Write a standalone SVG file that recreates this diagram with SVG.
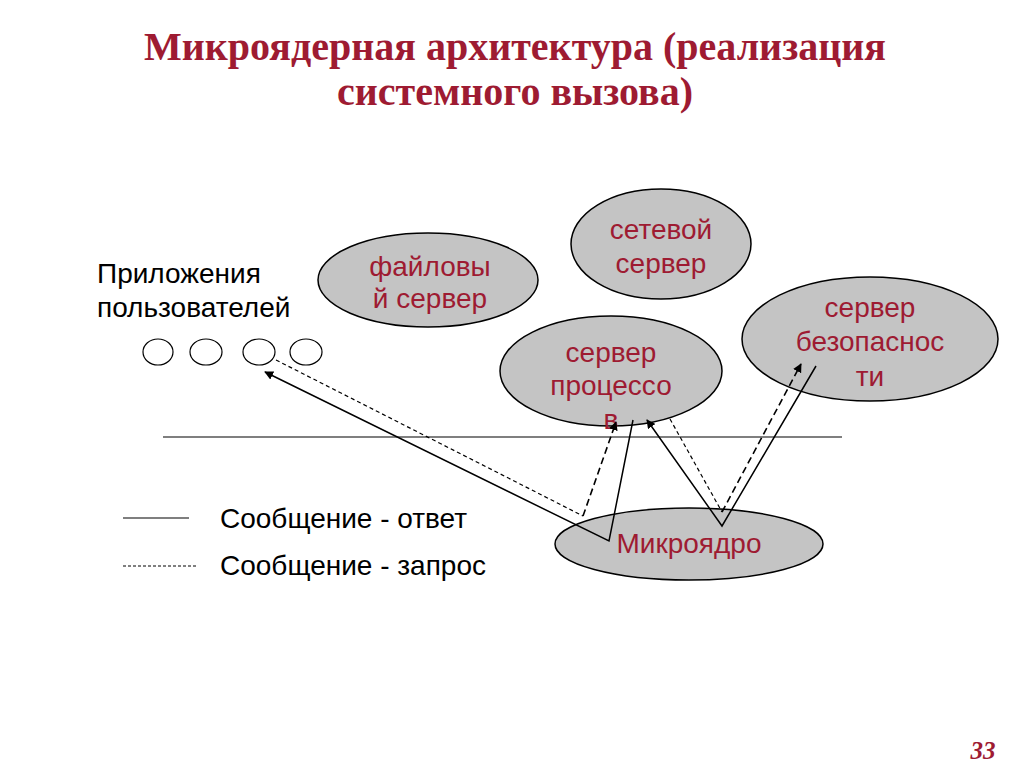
<svg xmlns="http://www.w3.org/2000/svg" width="1024" height="767" viewBox="0 0 1024 767">
<defs>
<style>
.title{font-family:"Liberation Serif",serif;font-weight:bold;font-size:40px;fill:#9E1B32;text-anchor:middle}
.nt{font-family:"Liberation Sans",Arial,sans-serif;font-size:28px;fill:#9E1B32;text-anchor:middle}
.bt{font-family:"Liberation Sans",Arial,sans-serif;font-size:28px;fill:#000}
.node{fill:#C4C4C4;stroke:#000;stroke-width:1.5}
.app{fill:#fff;stroke:#000;stroke-width:1.2}
.solid{fill:none;stroke:#000;stroke-width:1.5}
.dash1{fill:none;stroke:#000;stroke-width:1.2;stroke-dasharray:4 3}
.dash2{fill:none;stroke:#000;stroke-width:1.6;stroke-dasharray:7 4}
</style>
<marker id="ah" viewBox="0 0 10 10" refX="9" refY="5" markerWidth="9" markerHeight="9" markerUnits="userSpaceOnUse" orient="auto">
<path d="M0,0 L10,5 L0,10 z" fill="#000"/>
</marker>
</defs>
<rect width="1024" height="767" fill="#fff"/>
<text class="title" x="515" y="60">Микроядерная архитектура (реализация</text>
<text class="title" x="515" y="105">системного вызова)</text>

<g id="file-server"><ellipse class="node" cx="428" cy="280" rx="110" ry="47"/>
<text class="nt" x="430" y="276">файловы</text><text class="nt" x="430" y="308">й сервер</text></g>
<g id="net-server"><ellipse class="node" cx="661" cy="244" rx="90" ry="55"/>
<text class="nt" x="661" y="239">сетевой</text><text class="nt" x="661" y="273">сервер</text></g>
<g id="proc-server"><ellipse class="node" cx="611" cy="371" rx="111" ry="55"/>
<text class="nt" x="611" y="362">сервер</text><text class="nt" x="611" y="395">процессо</text><text class="nt" x="611" y="429">в</text></g>
<g id="sec-server"><ellipse class="node" cx="870" cy="339" rx="128" ry="62"/>
<text class="nt" x="870" y="317">сервер</text><text class="nt" x="870" y="351">безопаснос</text><text class="nt" x="870" y="386">ти</text></g>
<g id="microkernel"><ellipse class="node" cx="689" cy="544" rx="134" ry="36"/>
<text class="nt" x="689" y="553">Микроядро</text></g>

<g id="apps">
<text class="bt" x="97" y="283">Приложения</text>
<text class="bt" x="97" y="317">пользователей</text>
<ellipse class="app" cx="158" cy="352" rx="15" ry="13"/>
<ellipse class="app" cx="206" cy="352" rx="16" ry="13"/>
<ellipse class="app" cx="259" cy="352" rx="16" ry="13"/>
<ellipse class="app" cx="306" cy="352" rx="16" ry="13"/>
</g>

<line x1="163" y1="437" x2="842" y2="437" stroke="#000" stroke-width="1.2"/>

<g id="connectors">
<polyline class="solid" points="633,420 609,541 265,372" marker-end="url(#ah)"/>
<polyline class="dash1" points="276,360 583,516"/>
<polyline class="dash2" points="583,516 616,422" marker-end="url(#ah)"/>
<polyline class="dash1" points="670,419 722,512"/>
<polyline class="dash2" points="722,512 801,364" marker-end="url(#ah)"/>
<polyline class="solid" points="816,366 722,526 647,420" marker-end="url(#ah)"/>
</g>

<g id="legend">
<line x1="123" y1="518" x2="189" y2="518" stroke="#000" stroke-width="1.2"/>
<text class="bt" x="220" y="528">Сообщение - ответ</text>
<line x1="123" y1="566" x2="197" y2="566" stroke="#000" stroke-width="1" stroke-dasharray="3 2"/>
<text class="bt" x="220" y="575">Сообщение - запрос</text>
</g>

<text x="983" y="759" font-family="Liberation Serif,serif" font-weight="bold" font-style="italic" font-size="25" fill="#9E1B32" text-anchor="middle">33</text>
</svg>
